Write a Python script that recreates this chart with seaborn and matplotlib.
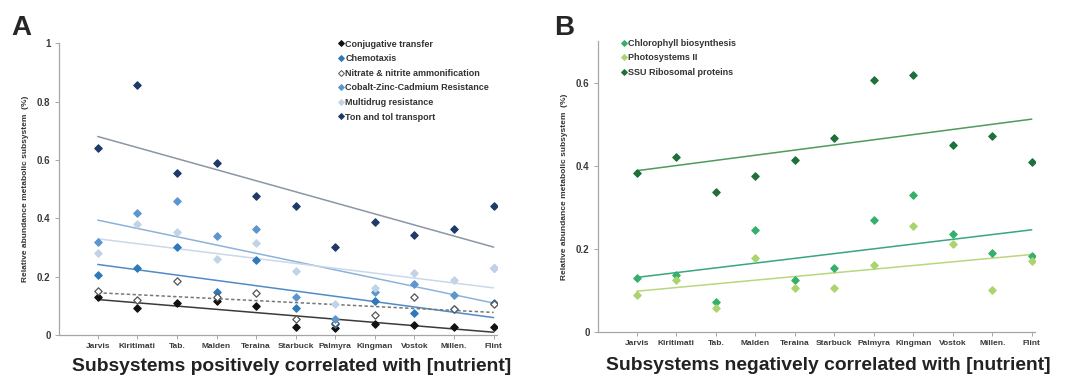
import numpy as np
import pandas as pd
import matplotlib
matplotlib.use("Agg")
import matplotlib.pyplot as plt
import seaborn as sns
from matplotlib.lines import Line2D

sns.set_style("white")
plt.rcParams['font.family'] = ['Liberation Sans', 'DejaVu Sans']

sites = ["Jarvis", "Kiritimati", "Tab.", "Malden", "Teraina", "Starbuck",
         "Palmyra", "Kingman", "Vostok", "Millen.", "Flint"]

# Panel A series
conjugative = [0.129, 0.091, 0.111, 0.116, 0.100, 0.027, 0.023, 0.037, 0.035, 0.026, 0.027]
chemotaxis = [0.205, 0.229, 0.302, 0.148, 0.258, 0.091, 0.037, 0.115, 0.075, 0.089, 0.110]
nitrate = [0.151, 0.120, 0.186, 0.131, 0.145, 0.056, 0.040, 0.068, 0.129, 0.089, 0.108]
cobalt = [0.320, 0.418, 0.459, 0.339, 0.362, 0.129, 0.054, 0.146, 0.176, 0.137, 0.228]
multidrug = [0.280, 0.379, 0.353, 0.259, 0.316, 0.219, 0.106, 0.162, 0.212, 0.188, 0.228]
ton_tol = [0.642, 0.856, 0.555, 0.589, 0.476, 0.441, 0.300, 0.388, 0.344, 0.365, 0.443]

# Panel B series
chlorophyll = [0.131, 0.138, 0.073, 0.246, 0.126, 0.154, 0.270, 0.329, 0.235, 0.190, 0.182]
photosystems = [0.090, 0.126, 0.058, 0.178, 0.107, 0.106, 0.162, 0.255, 0.212, 0.100, 0.171]
ssu_ribosomal = [0.382, 0.420, 0.336, 0.376, 0.413, 0.466, 0.607, 0.618, 0.450, 0.471, 0.410]

x = np.arange(len(sites))

series_a = [
    ("Conjugative transfer", conjugative),
    ("Chemotaxis", chemotaxis),
    ("Nitrate & nitrite ammonification", nitrate),
    ("Cobalt-Zinc-Cadmium Resistance", cobalt),
    ("Multidrug resistance", multidrug),
    ("Ton and tol transport", ton_tol),
]
style_a = {
    "Conjugative transfer": dict(fc="#111111", ec="#111111", line="#3a3a3a", ls="-"),
    "Chemotaxis": dict(fc="#2f78b9", ec="#2f78b9", line="#4f8cc6", ls="-"),
    "Nitrate & nitrite ammonification": dict(fc="white", ec="#555555", line="#777777", ls=(0, (2.2, 1.6))),
    "Cobalt-Zinc-Cadmium Resistance": dict(fc="#5b97cc", ec="#5b97cc", line="#8db3da", ls="-"),
    "Multidrug resistance": dict(fc="#c3d3e6", ec="#c3d3e6", line="#c9d8ea", ls="-"),
    "Ton and tol transport": dict(fc="#1f3a68", ec="#1f3a68", line="#8a96a6", ls="-"),
}

series_b = [
    ("Chlorophyll biosynthesis", chlorophyll),
    ("Photosystems II", photosystems),
    ("SSU Ribosomal proteins", ssu_ribosomal),
]
style_b = {
    "Chlorophyll biosynthesis": dict(fc="#35b06a", ec="#35b06a", line="#3aa67c", ls="-"),
    "Photosystems II": dict(fc="#a9d46e", ec="#a9d46e", line="#bad67e", ls="-"),
    "SSU Ribosomal proteins": dict(fc="#1f6f3a", ec="#1f6f3a", line="#4f9a5c", ls="-"),
}

fig = plt.figure(figsize=(10.68, 3.79), dpi=100)
axA = fig.add_axes([0.0552, 0.116, 0.410, 0.770])
axB = fig.add_axes([0.560, 0.124, 0.409, 0.768])

tick_color = "#3a3a3a"


def draw(ax, series, styles):
    for name, vals in series:
        st = styles[name]
        df = pd.DataFrame({"x": x, "y": vals})
        sns.regplot(data=df, x="x", y="y", ax=ax, scatter=False, ci=None,
                    truncate=True,
                    line_kws=dict(color=st["line"], lw=1.1, ls=st["ls"], zorder=2))
    for name, vals in series:
        st = styles[name]
        df = pd.DataFrame({"x": x, "y": vals})
        sns.scatterplot(data=df, x="x", y="y", ax=ax, marker="D", s=14,
                        color=st["fc"], edgecolor=st["ec"], linewidth=0.9,
                        zorder=3, legend=False)


draw(axA, series_a, style_a)
draw(axB, series_b, style_b)


def style_axes(ax, ylim, yticks, ylabels, xlabel, label_xy):
    ax.set_xlim(-0.98, 10.08)
    ax.set_ylim(*ylim)
    ax.set_xticks(x)
    ax.set_xticklabels(sites, fontsize=6, fontweight="bold", color=tick_color)
    ax.set_yticks(yticks)
    ax.set_yticklabels(ylabels, fontsize=7, fontweight="bold", color=tick_color)
    ax.tick_params(axis="both", which="both", direction="out", length=3,
                   width=0.6, color="#999999", pad=3, bottom=True, left=True)
    for s in ["top", "right"]:
        ax.spines[s].set_visible(False)
    for s in ["left", "bottom"]:
        ax.spines[s].set_color("#a6a6a6")
        ax.spines[s].set_linewidth(0.9)
    ax.set_ylabel("Relative abundance metabolic subsystem  (%)", fontsize=6,
                  fontweight="bold", color="#333333", labelpad=6)
    ax.set_xlabel(xlabel, fontsize=13.9, fontweight="bold", color="#222222")
    ax.xaxis.set_label_coords(*label_xy)


style_axes(axA, (0, 1.0), [0, 0.2, 0.4, 0.6, 0.8, 1.0],
           ["0", "0.2", "0.4", "0.6", "0.8", "1"],
           "Subsystems positively correlated with [nutrient]", (0.532, -0.077))
style_axes(axB, (0, 0.70), [0, 0.2, 0.4, 0.6],
           ["0", "0.2", "0.4", "0.6"],
           "Subsystems negatively correlated with [nutrient]", (0.526, -0.087))


def make_legend(ax, series, styles, loc, anchor):
    handles = []
    for name, _ in series:
        st = styles[name]
        handles.append(Line2D([], [], ls="none", marker="D", markersize=3,
                              markerfacecolor=st["fc"], markeredgecolor=st["ec"],
                              markeredgewidth=0.7, label=name))
    leg = ax.legend(handles=handles, loc=loc, bbox_to_anchor=anchor,
                    frameon=False, handletextpad=0.15, handlelength=0.6,
                    labelspacing=0.62, borderaxespad=0,
                    prop=dict(size=6.5, weight="bold"))
    for t in leg.get_texts():
        t.set_color("#333333")
    return leg


make_legend(axA, series_a, style_a, "upper left", (0.63, 1.025))
make_legend(axB, series_b, style_b, "upper left", (0.045, 1.02))

fig.text(0.011, 0.926, "A", fontsize=20, fontweight="bold", va="center", ha="left")
fig.text(0.519, 0.926, "B", fontsize=20, fontweight="bold", va="center", ha="left")

fig.savefig("out.png", dpi=100)
